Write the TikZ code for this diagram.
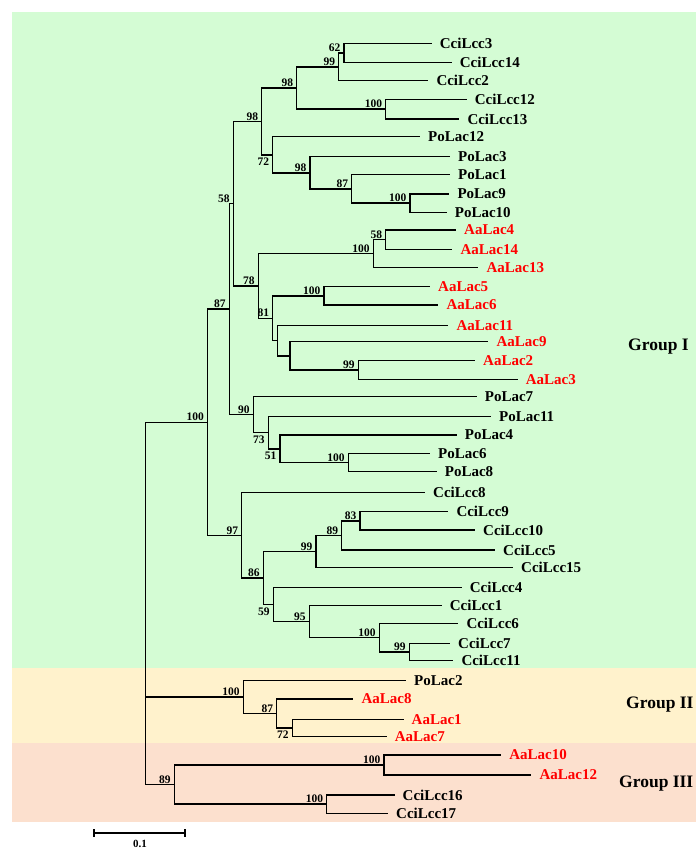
\documentclass[tikz,border=0pt]{standalone}
\usepackage{fontspec}
\setmainfont{Liberation Serif}
\usepackage{tikz}
\definecolor{grpone}{RGB}{212,252,212}
\definecolor{grptwo}{RGB}{255,242,204}
\definecolor{grpthree}{RGB}{252,224,206}
\definecolor{aared}{RGB}{255,0,0}
\tikzstyle{leaf} = [anchor=west, inner xsep=8pt, inner ysep=1pt, font=\fontsize{15}{15}\selectfont\bfseries]
\tikzstyle{aaleaf} = [leaf, text=aared]
\tikzstyle{boot} = [anchor=south east, inner sep=1pt, xshift=-2.5pt, font=\fontsize{11.5}{12}\selectfont\bfseries]
\tikzstyle{bootlow} = [boot, anchor=north east, yshift=-2pt]
\tikzstyle{branch} = [line width=1.5pt]
\tikzstyle{group} = [anchor=west, inner sep=0pt, font=\fontsize{17.5}{18}\selectfont\bfseries]

\begin{document}
\begin{tikzpicture}[x=1pt, y=-1pt]
\useasboundingbox (0,0) rectangle (696,850);
% group bands
\fill [grpone] (12,12) rectangle (696,668);
\fill [grptwo] (12,668) rectangle (696,743);
\fill [grpthree] (12,743) rectangle (696,822);

% leaves
\node (CciLcc3) [leaf] at (431.7,43.3) {CciLcc3};
\node (CciLcc14) [leaf] at (451.7,62.7) {CciLcc14};
\node (CciLcc2) [leaf] at (428.3,80.7) {CciLcc2};
\node (CciLcc12) [leaf] at (466.7,99.3) {CciLcc12};
\node (CciLcc13) [leaf] at (459.3,119) {CciLcc13};
\node (PoLac12) [leaf] at (420,136.7) {PoLac12};
\node (PoLac3) [leaf] at (450,156.7) {PoLac3};
\node (PoLac1) [leaf] at (450,174.7) {PoLac1};
\node (PoLac9) [leaf] at (449.3,194) {PoLac9};
\node (PoLac10) [leaf] at (446.7,212.3) {PoLac10};
\node (AaLac4) [aaleaf] at (456,230) {AaLac4};
\node (AaLac14) [aaleaf] at (452.3,249.3) {AaLac14};
\node (AaLac13) [aaleaf] at (478.3,267.3) {AaLac13};
\node (AaLac5) [aaleaf] at (430,286.7) {AaLac5};
\node (AaLac6) [aaleaf] at (438.3,305) {AaLac6};
\node (AaLac11) [aaleaf] at (448.3,325.5) {AaLac11};
\node (AaLac9) [aaleaf] at (488.3,341.7) {AaLac9};
\node (AaLac2) [aaleaf] at (475,360.7) {AaLac2};
\node (AaLac3) [aaleaf] at (517.7,379.3) {AaLac3};
\node (PoLac7) [leaf] at (476.7,396.7) {PoLac7};
\node (PoLac11) [leaf] at (491,416.7) {PoLac11};
\node (PoLac4) [leaf] at (456.7,435) {PoLac4};
\node (PoLac6) [leaf] at (430,453.3) {PoLac6};
\node (PoLac8) [leaf] at (436.7,471.7) {PoLac8};
\node (CciLcc8) [leaf] at (425,492.7) {CciLcc8};
\node (CciLcc9) [leaf] at (448.3,511.7) {CciLcc9};
\node (CciLcc10) [leaf] at (475,530) {CciLcc10};
\node (CciLcc5) [leaf] at (495,550) {CciLcc5};
\node (CciLcc15) [leaf] at (513,567.7) {CciLcc15};
\node (CciLcc4) [leaf] at (461.7,587.7) {CciLcc4};
\node (CciLcc1) [leaf] at (441.7,605.7) {CciLcc1};
\node (CciLcc6) [leaf] at (458.3,623.3) {CciLcc6};
\node (CciLcc7) [leaf] at (450,643.3) {CciLcc7};
\node (CciLcc11) [leaf] at (453.3,660.7) {CciLcc11};
\node (PoLac2) [leaf] at (406,680.7) {PoLac2};
\node (AaLac8) [aaleaf] at (353.3,699) {AaLac8};
\node (AaLac1) [aaleaf] at (403.5,719.3) {AaLac1};
\node (AaLac7) [aaleaf] at (386.7,736.7) {AaLac7};
\node (AaLac10) [aaleaf] at (501.2,755) {AaLac10};
\node (AaLac12) [aaleaf] at (531.3,775) {AaLac12};
\node (CciLcc16) [leaf] at (394.5,795) {CciLcc16};
\node (CciLcc17) [leaf] at (388,813.3) {CciLcc17};

% inner nodes
\coordinate (n62) at (344,53);
\coordinate (n99a) at (338.7,66.9);
\coordinate (n100a) at (385.7,109.2);
\coordinate (n98a) at (296.7,88);
\coordinate (n100b) at (410,203.2);
\coordinate (n87a) at (351.7,188.9);
\coordinate (n98b) at (310,172.8);
\coordinate (n72a) at (272.7,154.8);
\coordinate (n98c) at (261.7,121.4);
\coordinate (n58a) at (385.7,239.7);
\coordinate (n100c) at (373.3,253.5);
\coordinate (n100d) at (324,295.9);
\coordinate (n99b) at (358.3,370);
\coordinate (nB) at (290,355.9);
\coordinate (nA) at (277.3,340.7);
\coordinate (n81) at (272.7,318.3);
\coordinate (n78) at (258.3,285.9);
\coordinate (n58b) at (233.3,203.7);
\coordinate (n100e) at (348.3,462.5);
\coordinate (n51) at (280,448.8);
\coordinate (n73) at (268.3,432.7);
\coordinate (n90) at (253.3,414.7);
\coordinate (n87b) at (229.3,309.2);
\coordinate (n83) at (360,520.9);
\coordinate (n89a) at (341.7,535.4);
\coordinate (n99c) at (316,551.6);
\coordinate (n99d) at (409.3,652);
\coordinate (n100f) at (379.3,637.7);
\coordinate (n95) at (309.3,621.7);
\coordinate (n59) at (273.3,604.7);
\coordinate (n86) at (263.3,578.1);
\coordinate (n97) at (241.7,535.4);
\coordinate (n100g) at (207.5,422.3);
\coordinate (n72b) at (292.3,728);
\coordinate (n87c) at (276.7,713.5);
\coordinate (n100h) at (243.3,697.1);
\coordinate (n100i) at (384,765);
\coordinate (n100j) at (326.7,804.2);
\coordinate (n89b) at (174.3,784.6);
\coordinate (root) at (145.7,603.5);

% branches
\draw [branch] (n62) |- (CciLcc3.west) (n62) |- (CciLcc14.west);
\draw [branch] (n99a) |- (n62) (n99a) |- (CciLcc2.west);
\draw [branch] (n100a) |- (CciLcc12.west) (n100a) |- (CciLcc13.west);
\draw [branch] (n98a) |- (n99a) (n98a) |- (n100a);
\draw [branch] (n100b) |- (PoLac9.west) (n100b) |- (PoLac10.west);
\draw [branch] (n87a) |- (PoLac1.west) (n87a) |- (n100b);
\draw [branch] (n98b) |- (PoLac3.west) (n98b) |- (n87a);
\draw [branch] (n72a) |- (PoLac12.west) (n72a) |- (n98b);
\draw [branch] (n98c) |- (n98a) (n98c) |- (n72a);
\draw [branch] (n58a) |- (AaLac4.west) (n58a) |- (AaLac14.west);
\draw [branch] (n100c) |- (n58a) (n100c) |- (AaLac13.west);
\draw [branch] (n100d) |- (AaLac5.west) (n100d) |- (AaLac6.west);
\draw [branch] (n99b) |- (AaLac2.west) (n99b) |- (AaLac3.west);
\draw [branch] (nB) |- (AaLac9.west) (nB) |- (n99b);
\draw [branch] (nA) |- (AaLac11.west) (nA) |- (nB);
\draw [branch] (n81) |- (n100d) (n81) |- (nA);
\draw [branch] (n78) |- (n100c) (n78) |- (n81);
\draw [branch] (n58b) |- (n98c) (n58b) |- (n78);
\draw [branch] (n100e) |- (PoLac6.west) (n100e) |- (PoLac8.west);
\draw [branch] (n51) |- (PoLac4.west) (n51) |- (n100e);
\draw [branch] (n73) |- (PoLac11.west) (n73) |- (n51);
\draw [branch] (n90) |- (PoLac7.west) (n90) |- (n73);
\draw [branch] (n87b) |- (n58b) (n87b) |- (n90);
\draw [branch] (n83) |- (CciLcc9.west) (n83) |- (CciLcc10.west);
\draw [branch] (n89a) |- (n83) (n89a) |- (CciLcc5.west);
\draw [branch] (n99c) |- (n89a) (n99c) |- (CciLcc15.west);
\draw [branch] (n99d) |- (CciLcc7.west) (n99d) |- (CciLcc11.west);
\draw [branch] (n100f) |- (CciLcc6.west) (n100f) |- (n99d);
\draw [branch] (n95) |- (CciLcc1.west) (n95) |- (n100f);
\draw [branch] (n59) |- (CciLcc4.west) (n59) |- (n95);
\draw [branch] (n86) |- (n99c) (n86) |- (n59);
\draw [branch] (n97) |- (CciLcc8.west) (n97) |- (n86);
\draw [branch] (n100g) |- (n87b) (n100g) |- (n97);
\draw [branch] (n72b) |- (AaLac1.west) (n72b) |- (AaLac7.west);
\draw [branch] (n87c) |- (AaLac8.west) (n87c) |- (n72b);
\draw [branch] (n100h) |- (PoLac2.west) (n100h) |- (n87c);
\draw [branch] (n100i) |- (AaLac10.west) (n100i) |- (AaLac12.west);
\draw [branch] (n100j) |- (CciLcc16.west) (n100j) |- (CciLcc17.west);
\draw [branch] (n89b) |- (n100i) (n89b) |- (n100j);
\draw [branch] (root) |- (n100g) (root) |- (n100h) (root) |- (n89b);

% bootstrap values
\node (b62) [boot] at (n62) {62};
\node (b99a) [boot] at (n99a) {99};
\node (b100a) [boot] at (n100a) {100};
\node (b98a) [boot] at (n98a) {98};
\node (b100b) [boot] at (n100b) {100};
\node (b87a) [boot] at (n87a) {87};
\node (b98b) [boot] at (n98b) {98};
\node (b72a) [bootlow] at (n72a) {72};
\node (b98c) [boot] at (n98c) {98};
\node (b58a) [boot] at (n58a) {58};
\node (b100c) [boot] at (n100c) {100};
\node (b100d) [boot] at (n100d) {100};
\node (b99b) [boot] at (n99b) {99};
\node (b81) [boot] at (n81) {81};
\node (b78) [boot] at (n78) {78};
\node (b58b) [boot] at (n58b) {58};
\node (b100e) [boot] at (n100e) {100};
\node (b51) [bootlow] at (n51) {51};
\node (b73) [bootlow] at (n73) {73};
\node (b90) [boot] at (n90) {90};
\node (b87b) [boot] at (n87b) {87};
\node (b83) [boot] at (n83) {83};
\node (b89a) [boot] at (n89a) {89};
\node (b99c) [boot] at (n99c) {99};
\node (b99d) [boot] at (n99d) {99};
\node (b100f) [boot] at (n100f) {100};
\node (b95) [boot] at (n95) {95};
\node (b59) [bootlow] at (n59) {59};
\node (b86) [boot] at (n86) {86};
\node (b97) [boot] at (n97) {97};
\node (b100g) [boot] at (n100g) {100};
\node (b72b) [bootlow] at (n72b) {72};
\node (b87c) [boot] at (n87c) {87};
\node (b100h) [boot] at (n100h) {100};
\node (b100i) [boot] at (n100i) {100};
\node (b100j) [boot] at (n100j) {100};
\node (b89b) [boot] at (n89b) {89};

% groups
\node (grpI) [group] at (628,346.7) {Group I};
\node (grpII) [group] at (626,705) {Group II};
\node (grpIII) [group] at (619,783.3) {Group III};

% scale bar
\coordinate (sbl) at (94,833);
\coordinate (sbr) at (185,833);
\draw [line width=1.2pt] (sbl) -- (sbr);
\draw [line width=1.2pt] (sbl) ++(0,-4) -- ++(0,8) (sbr) ++(0,-4) -- ++(0,8);
\node (sbtext) [font=\fontsize{11}{12}\selectfont\bfseries, inner sep=0pt] at (140,843.5) {0.1};
\end{tikzpicture}
\end{document}
